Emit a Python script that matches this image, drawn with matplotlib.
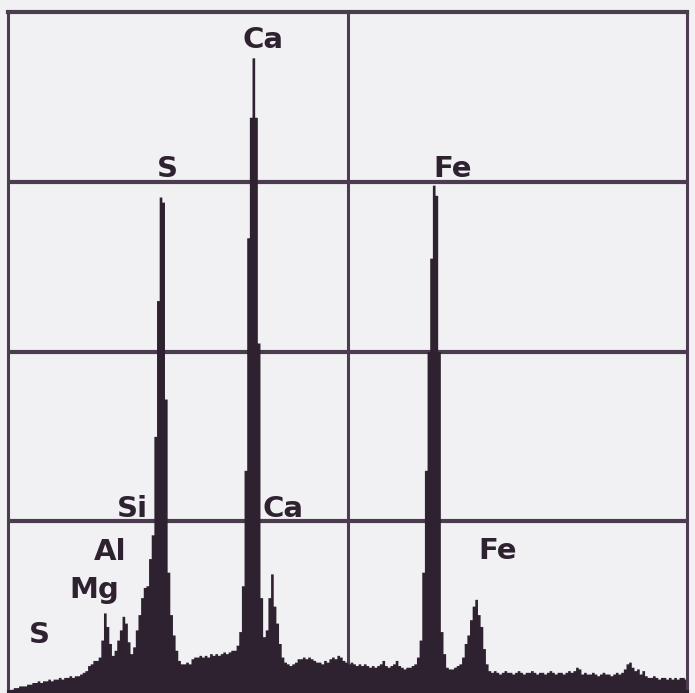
import numpy as np
import matplotlib
matplotlib.use("Agg")
import matplotlib.pyplot as plt

# EDS spectrum, 0.04 keV channels from 0 to 10.24 keV, heights in grid divisions
channel_width = 0.04
counts = [
    0.00, 0.01, 0.02, 0.02, 0.03, 0.03, 0.03, 0.04, 0.04, 0.05, 0.05, 0.06, 0.05, 0.06, 0.06, 0.07,
    0.06, 0.07, 0.07, 0.08, 0.07, 0.08, 0.08, 0.09, 0.08, 0.09, 0.09, 0.10, 0.11, 0.12, 0.15, 0.16,
    0.18, 0.18, 0.20, 0.30, 0.46, 0.38, 0.28, 0.21, 0.24, 0.30, 0.36, 0.44, 0.40, 0.29, 0.22, 0.26,
    0.36, 0.45, 0.55, 0.61, 0.62, 0.78, 0.92, 1.50, 2.30, 2.91, 2.88, 1.72, 0.70, 0.45, 0.33, 0.24,
    0.18, 0.16, 0.16, 0.17, 0.16, 0.19, 0.20, 0.20, 0.21, 0.20, 0.21, 0.20, 0.22, 0.21, 0.22, 0.21,
    0.22, 0.23, 0.22, 0.23, 0.24, 0.24, 0.27, 0.35, 0.62, 1.30, 2.67, 3.38, 3.73, 3.38, 2.05, 0.55,
    0.32, 0.36, 0.55, 0.69, 0.50, 0.40, 0.28, 0.20, 0.17, 0.16, 0.15, 0.16, 0.17, 0.19, 0.19, 0.20,
    0.19, 0.20, 0.19, 0.18, 0.17, 0.17, 0.16, 0.18, 0.17, 0.19, 0.20, 0.19, 0.21, 0.20, 0.18, 0.17,
    0.16, 0.17, 0.16, 0.15, 0.16, 0.15, 0.16, 0.15, 0.14, 0.15, 0.14, 0.15, 0.16, 0.18, 0.15, 0.14,
    0.15, 0.16, 0.18, 0.15, 0.14, 0.13, 0.14, 0.14, 0.15, 0.16, 0.20, 0.30, 0.70, 1.30, 2.00, 2.55,
    2.98, 2.92, 2.00, 0.35, 0.22, 0.14, 0.13, 0.13, 0.14, 0.15, 0.16, 0.20, 0.28, 0.33, 0.42, 0.50,
    0.54, 0.45, 0.38, 0.25, 0.16, 0.12, 0.11, 0.12, 0.11, 0.10, 0.11, 0.12, 0.11, 0.11, 0.10, 0.11,
    0.12, 0.11, 0.10, 0.11, 0.11, 0.12, 0.11, 0.10, 0.11, 0.11, 0.10, 0.11, 0.12, 0.11, 0.10, 0.11,
    0.11, 0.10, 0.11, 0.12, 0.11, 0.12, 0.14, 0.13, 0.10, 0.11, 0.10, 0.10, 0.11, 0.10, 0.09, 0.10,
    0.11, 0.10, 0.10, 0.09, 0.10, 0.11, 0.10, 0.11, 0.13, 0.16, 0.17, 0.14, 0.12, 0.13, 0.10, 0.12,
    0.09, 0.08, 0.08, 0.09, 0.08, 0.07, 0.08, 0.08, 0.07, 0.08, 0.07, 0.08, 0.07, 0.08, 0.08, 0.07,
]

# peak labels (element, energy keV, baseline height)
labels = ["Ca", "S", "Fe", "Si", "Ca", "Al", "Mg", "S", "Fe"]
label_x = [3.85, 2.40, 6.71, 1.87, 4.15, 1.54, 1.30, 0.48, 7.38]
label_y = [3.79, 3.03, 3.03, 1.025, 1.025, 0.77, 0.55, 0.28, 0.78]

ink = "#2e2230"
grid_col = "#4b3d4f"
paper = "#f1f1f3"

counts = np.array(counts)
edges = np.arange(len(counts) + 1) * channel_width
x_max = edges[-1]

fig = plt.figure(figsize=(6.95, 6.93), dpi=100, facecolor=paper)
ax = fig.add_axes([8 / 695, 2 / 693, 679 / 695, 679 / 693])
ax.set_facecolor(paper)

ax.fill_between(edges, np.append(counts, counts[-1]), 0, step="post",
                color=ink, linewidth=0, zorder=2)

# grid: horizontal divisions every 1 unit, one vertical at the middle
for yv in [1, 2, 3]:
    ax.axhline(yv, color=grid_col, linewidth=3.0, zorder=1)
ax.axvline(x_max / 2, color=grid_col, linewidth=2.2, zorder=1)

ax.set_xlim(0, x_max)
ax.set_ylim(0, 4)
ax.set_xticks([])
ax.set_yticks([])
for side, lw in [("top", 3.0), ("left", 2.2), ("right", 2.2), ("bottom", 2.2)]:
    ax.spines[side].set_color(grid_col if side != "bottom" else ink)
    ax.spines[side].set_linewidth(lw)

for name, xv, yv in zip(labels, label_x, label_y):
    ax.text(xv, yv, name, ha="center", va="baseline", fontsize=21,
            fontweight="bold", color=ink, family="DejaVu Sans", zorder=3)

fig.savefig("out.png", dpi=100, facecolor=paper)
